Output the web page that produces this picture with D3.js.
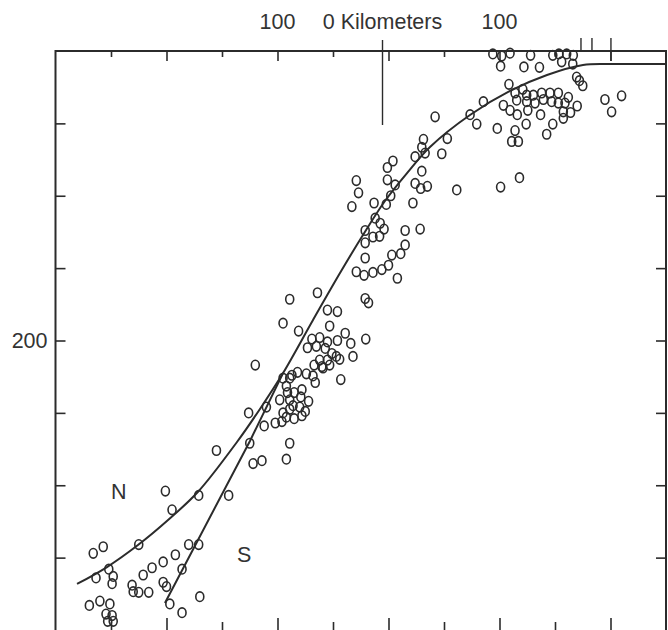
<!doctype html>
<html lang="en">
<head>
<meta charset="UTF-8" />
<title>Profile</title>
<script src="https://cdn.jsdelivr.net/npm/d3@7"></script>
<style>
  body { margin: 0; background: #fff; }
  text { font-family: "Liberation Sans", Arial, sans-serif; fill: #333; }
</style>
</head>
<body>
<svg id="chart" width="668" height="630"></svg>
<script>
const lowerPoints = [
  [-155,124],[-125,129],[-89,129],[-122,115],[-114,117],[-92,118],[-201,96],[-171,93],
  [-144,93],[-195,83],[-225,59],[-266,53],[-257,57.5],[-180,59],[-171,59],[-192,52],
  [-203,47],[-213,43],[-221,38],[-186,42],[-252,42],[-248,37],[-263.5,36],[-249,32],
  [-231,31],[-230,26.5],[-225,26],[-216,26],[-203,33],[-200,30],[-269.5,17],[-260,20],
  [-251,18],[-170,23],[-197,18],[-186,12],[-254.5,11],[-249,10],[-253,6],[-248,6]
];
const middlePoints = [
  [-21,257],[3,259],[11,260],[-29,247.5],[-22,245],[-14,247],[-6,249],[0,252],[8,243],
  [-89,228.5],[-64,233],[-21,229],[-18,226],[-55,221],[-46,220],[-95,212],[-53,210],
  [-81,206.5],[-39,205],[-69,201],[-62,202],[-55,199],[-46,200],[-34,198],[-20.5,201],
  [-73,195],[-65,196],[-57,194.5],[-51,191],[-47,189],[-44,187],[-32,189],[-120,183],
  [-62,186.5],[-55,186.5],[-67,183],[-60,182],[-53,183],[-74,177],[-82,178],[-87,176],
  [-95,174],[-89,174],[-68,175.5],[-59,181],[-66,171],[-43,173],[-92,168.5],[-91,164],
  [-85,164],[-78,166],[-98,159],[-89,159],[-79,161],[-72,158],[-86,155],[-80,154],
  [-95,150],[-89,152.5],[-75,151],[-92,147],[-85,146],[-78,148],[-102,143],[-96,144],
  [-112,141],[-110,154],[-126,150]
];
const upperPoints = [
  [101,389.5],[122,389],[136,388.7],[156,392.5],[166,391],[169.5,382],[172,379.5],[175,376],
  [108.5,377],[114,371],[121,373.5],[115.5,366],[124.5,369.5],[124.5,365],[130.5,369.5],
  [132,364],[138,371],[139.5,366.5],[145.5,371],[147,365],[153,371],[153,364],[162,368],
  [159,364],[170,362],[103.5,362.5],[109.5,359],[116,356],[125.5,359],[137,356],[157.5,358],
  [164,357.5],[157.5,353.5],[124,349.5],[148,349.5],[142.5,342.5],[114,345],[111,337.5],
  [117,337.5],[98,346.5],[85.5,365],[73.5,356],[79.5,349.5],[195,366.5],[210,369],[201,358],
  [42,354.5],[53,339.5],[31.5,339],[30,333.5],[33,329.5],[24,327],[48,329],[4,324],
  [-1,319.5],[30,317],[-1,311],[6,307.5],[24,308.5],[29,305],[35,306.5],[-29,310.5],
  [-27,302],[-33,292.5],[-13,295],[-2,294],[2,300],[22,295],[61.5,304],[101,306],[118,312.5],
  [-12,284.5],[-7.5,281],[-4,277],[-21,276],[-21,267.5],[-14,271.5],[-8,272],[15,276],
  [28.5,277],[15,266],
  [94,398],[102,396.5],[109.5,398.5],[128,397],[148,397],[153.5,398],[160.5,398],[166.5,397]
];

// fitted curves
const curveN = [
  [-280.6,31.8],[-253.6,43.5],[-225.7,58.7],[-198.6,76.0],[-171.6,95.5],[-136.5,129.9],
  [-115.8,152.7],[-95.0,177.5],[-68.0,214.2],[-43.7,246.6],[-23.0,272.9],[-3.2,296.4],
  [16.7,315.7],[37.4,333.7],[73.4,355.8],[109.5,372.4],[142.8,383.4],[175.2,390.3],
  [199.5,391.0],[250,391.0]
];
const curveS = [[-201.4,18.7],[-124.8,130.6],[-95.0,177.5]];

const xTicks = [-250,-200,-150,-100,-50,0,50,100,150,200];
const yTicks = [50,100,150,200,250,300,350];
const yLabels = [200];
const scaleLabels = [[-100,"100"],[-5.4,"0 Kilometers"],[100,"100"]];
const scaleBarKm = -5.4;
const markerKm = [173.4,183.3,200.4];
const curveLabels = [[-243,96,"N"],[-130,52,"S"]];

const svg = d3.select("#chart");
const x = d3.scaleLinear().domain([-300,250]).range([55.5,666]);
const y = d3.scaleLinear().domain([0,400]).range([630,51]);
const ink = "#2b2b2b";
const fontSize = 21.5;

svg.append("rect").attr("width",668).attr("height",630).attr("fill","#fff");

// frame
svg.append("rect")
  .attr("x",x(-300)).attr("y",y(400))
  .attr("width",x(250)-x(-300)).attr("height",y(0)-y(400)+2)
  .attr("fill","none").attr("stroke",ink).attr("stroke-width",2);

const major = d => d % 100 === 0;

// top and bottom ticks (inward)
const topAxis = svg.append("g").attr("transform",`translate(0,${y(400)})`)
  .call(d3.axisBottom(x).tickValues(xTicks).tickSize(0).tickFormat(""));
topAxis.select(".domain").remove();
topAxis.selectAll(".tick line").attr("y2",d => major(d) ? 10 : 6)
  .attr("stroke",ink).attr("stroke-width",1.6);

const bottomAxis = svg.append("g").attr("transform",`translate(0,${y(0)})`)
  .call(d3.axisTop(x).tickValues(xTicks).tickSize(0).tickFormat(""));
bottomAxis.select(".domain").remove();
bottomAxis.selectAll(".tick line").attr("y2",d => major(d) ? -12 : -8)
  .attr("stroke",ink).attr("stroke-width",1.6);

// left and right ticks
const leftAxis = svg.append("g").attr("transform",`translate(${x(-300)},0)`)
  .call(d3.axisLeft(y).tickValues(yTicks).tickSize(-10).tickPadding(8)
    .tickFormat(d => yLabels.includes(d) ? d : ""));
leftAxis.select(".domain").remove();
leftAxis.selectAll(".tick line").attr("stroke",ink).attr("stroke-width",1.6);
leftAxis.selectAll(".tick text").attr("font-size",fontSize).attr("fill","#333")
  .style("font-family","'Liberation Sans', Arial, sans-serif");

const rightAxis = svg.append("g").attr("transform",`translate(${x(250)},0)`)
  .call(d3.axisRight(y).tickValues(yTicks).tickSize(-10).tickFormat(""));
rightAxis.select(".domain").remove();
rightAxis.selectAll(".tick line").attr("stroke",ink).attr("stroke-width",1.6);

// scale bar and markers above the frame
svg.selectAll(".scaleLabel").data(scaleLabels).join("text")
  .attr("x",d => x(d[0])).attr("y",29)
  .attr("text-anchor","middle").attr("font-size",fontSize).text(d => d[1]);
svg.append("line")
  .attr("x1",x(scaleBarKm)).attr("x2",x(scaleBarKm))
  .attr("y1",40).attr("y2",125).attr("stroke",ink).attr("stroke-width",1.4);
svg.selectAll(".marker").data(markerKm).join("line")
  .attr("x1",d => x(d)).attr("x2",d => x(d))
  .attr("y1",38).attr("y2",(d,i) => i === markerKm.length-1 ? 61 : 51)
  .attr("stroke",ink).attr("stroke-width",1.4);

// curves
const line = d3.line().x(d => x(d[0])).y(d => y(d[1])).curve(d3.curveCatmullRom);
svg.append("path").attr("d",line(curveN))
  .attr("fill","none").attr("stroke",ink).attr("stroke-width",2);
svg.append("path").attr("d",d3.line().x(d => x(d[0])).y(d => y(d[1]))(curveS))
  .attr("fill","none").attr("stroke",ink).attr("stroke-width",2);

// points
const allPoints = lowerPoints.concat(middlePoints, upperPoints);
svg.append("g").selectAll("ellipse").data(allPoints).join("ellipse")
  .attr("cx",d => x(d[0])).attr("cy",d => y(d[1]))
  .attr("rx",4).attr("ry",4.8)
  .attr("fill","none").attr("stroke",ink).attr("stroke-width",1.6);

svg.selectAll(".curveLabel").data(curveLabels).join("text")
  .attr("x",d => x(d[0])).attr("y",d => y(d[1]))
  .attr("text-anchor","middle").attr("dy","0.35em")
  .attr("font-size",fontSize).text(d => d[2]);
</script>
</body>
</html>
